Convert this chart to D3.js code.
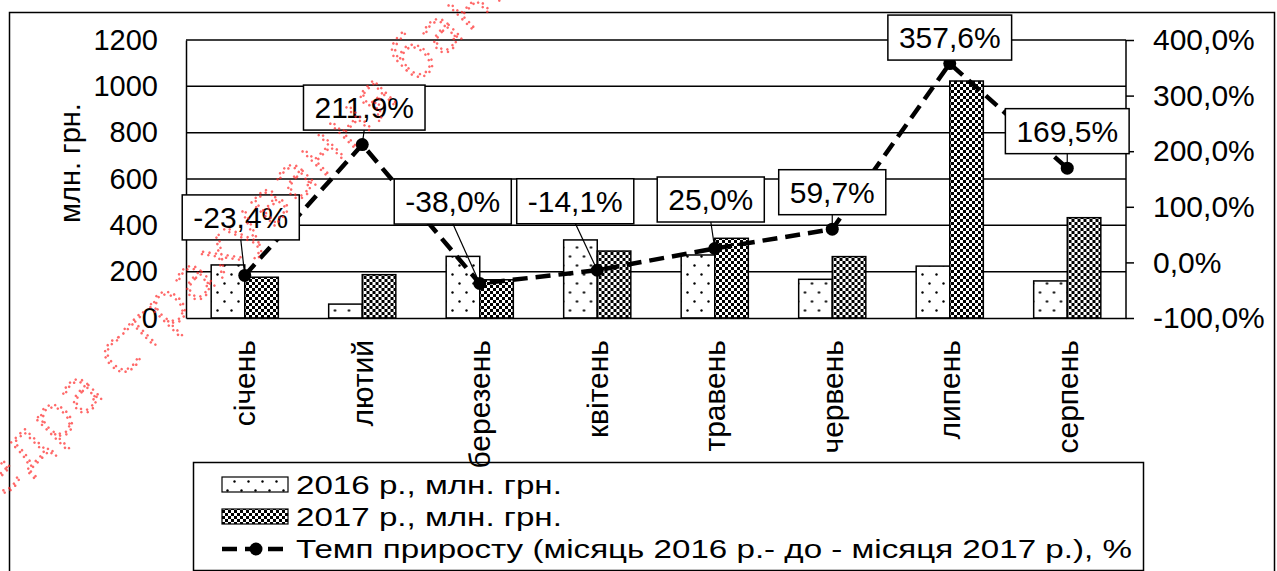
<!DOCTYPE html>
<html>
<head>
<meta charset="utf-8">
<script src="https://cdn.jsdelivr.net/npm/d3@7/dist/d3.min.js"></script>
<style>
  body { margin: 0; background: #fff; }
  svg { font-family: "Liberation Sans", Arial, sans-serif; }
</style>
</head>
<body>
<svg id="chart" width="1277" height="571"></svg>
<script>
// data
var months = ["січень", "лютий", "березень", "квітень", "травень", "червень", "липень", "серпень"];
var values2016 = [229, 60, 266, 337, 272, 167, 224, 160];
var values2017 = [176, 187, 165, 289, 344, 265, 1023, 433];
var growth = [-23.4, 211.9, -38.0, -14.1, 25.0, 59.7, 357.6, 169.5];
var leftTicks = [0, 200, 400, 600, 800, 1000, 1200];
var rightTicks = [-100, 0, 100, 200, 300, 400];
var seriesNames = ["2016 р., млн. грн.", "2017 р., млн. грн.",
                   "Темп приросту (місяць 2016 р.- до - місяця 2017 р.), %"];
var yTitle = "млн. грн.";
var watermark = "Кафедра страхування банківської справи";

// where each data label box sits relative to its point
var labelDx = [-4, 2, -27, -22, -4, 0, 0, 0];
var labelDy = [-58, -37, -82, -69, -49, -37, -26, -37];

var svg = d3.select("#chart");
var plot = {left: 186, right: 1126, top: 40, bottom: 318};

var fmtPct = function(d) { return d.toFixed(1).replace(".", ",") + "%"; };

// patterns
var defs = svg.append("defs");
var dots = defs.append("pattern").attr("id", "dots")
    .attr("patternUnits", "userSpaceOnUse").attr("width", 14).attr("height", 18);
dots.append("rect").attr("width", 14).attr("height", 18).attr("fill", "#fff");
dots.append("circle").attr("cx", 3.5).attr("cy", 4.5).attr("r", 1.2).attr("fill", "#000");
dots.append("circle").attr("cx", 10.5).attr("cy", 13.5).attr("r", 1.2).attr("fill", "#000");

var checks = defs.append("pattern").attr("id", "checks")
    .attr("patternUnits", "userSpaceOnUse").attr("width", 6).attr("height", 6);
checks.append("rect").attr("width", 6).attr("height", 6).attr("fill", "#fff");
checks.append("rect").attr("width", 3).attr("height", 3).attr("fill", "#000");
checks.append("rect").attr("x", 3).attr("y", 3).attr("width", 3).attr("height", 3).attr("fill", "#000");

// outer frame
svg.append("rect").attr("x", 9.5).attr("y", 12.5).attr("width", 1265).attr("height", 600)
   .attr("fill", "none").attr("stroke", "#000").attr("stroke-width", 1.5);

// scales
var x = d3.scaleBand().domain(months).range([plot.left, plot.right]);
var xs = d3.scaleBand().domain(["2016", "2017"]).range([0, x.bandwidth()])
    .paddingInner(0).paddingOuter(0.75);
var y = d3.scaleLinear().domain([0, 1200]).range([plot.bottom, plot.top]);
var y2 = d3.scaleLinear().domain([-100, 400]).range([plot.bottom, plot.top]);

// gridlines
svg.append("g").selectAll("line").data(leftTicks.slice(1)).enter().append("line")
   .attr("x1", plot.left).attr("x2", plot.right)
   .attr("y1", function(d) { return y(d); }).attr("y2", function(d) { return y(d); })
   .attr("stroke", "#000").attr("stroke-width", 1.5);

// left axis
var gl = svg.append("g").attr("transform", "translate(" + plot.left + ",0)")
   .call(d3.axisLeft(y).tickValues(leftTicks).tickSize(0).tickPadding(28).tickFormat(d3.format("d")));
gl.select(".domain").attr("stroke-width", 1.5);
gl.selectAll("text").attr("font-size", 29).attr("font-family", "Liberation Sans, Arial").attr("fill", "#000");

// right axis
var gr = svg.append("g").attr("transform", "translate(" + plot.right + ",0)")
   .call(d3.axisRight(y2).tickValues(rightTicks).tickSize(8).tickPadding(19).tickFormat(fmtPct));
gr.select(".domain").attr("stroke-width", 1.5).attr("d", "M0," + plot.top + "V" + plot.bottom);
gr.selectAll("line").attr("stroke-width", 1.5);
gr.selectAll("text").attr("font-size", 30).attr("font-family", "Liberation Sans, Arial").attr("fill", "#000");

// bars
var groups = svg.append("g").selectAll("g").data(months).enter().append("g")
   .attr("transform", function(d) { return "translate(" + x(d) + ",0)"; });
groups.append("rect")
   .attr("x", xs("2016")).attr("width", xs.bandwidth())
   .attr("y", function(d, i) { return y(values2016[i]); })
   .attr("height", function(d, i) { return plot.bottom - y(values2016[i]); })
   .attr("fill", "url(#dots)").attr("stroke", "#000").attr("stroke-width", 1.5);
groups.append("rect")
   .attr("x", xs("2017")).attr("width", xs.bandwidth())
   .attr("y", function(d, i) { return y(values2017[i]); })
   .attr("height", function(d, i) { return plot.bottom - y(values2017[i]); })
   .attr("fill", "url(#checks)").attr("stroke", "#000").attr("stroke-width", 1.5);

// bottom axis
var gb = svg.append("g").attr("transform", "translate(0," + plot.bottom + ")")
   .call(d3.axisBottom(x).tickSize(0).tickFormat(""));
gb.select(".domain").attr("stroke-width", 1.5);

// growth line
var cx = function(i) { return x(months[i]) + x.bandwidth() / 2; };
var line = d3.line().x(function(d, i) { return cx(i); }).y(function(d) { return y2(d); });
svg.append("path").datum(growth).attr("d", line)
   .attr("fill", "none").attr("stroke", "#000").attr("stroke-width", 4.5)
   .attr("stroke-dasharray", "15 8");

// leader lines
svg.append("g").selectAll("line").data(growth).enter().append("line")
   .attr("x1", function(d, i) { return cx(i) + labelDx[i]; })
   .attr("y1", function(d, i) { return y2(d) + labelDy[i] + 22; })
   .attr("x2", function(d, i) { return cx(i); })
   .attr("y2", function(d) { return y2(d); })
   .attr("stroke", "#000").attr("stroke-width", 1.2);

svg.append("g").selectAll("circle").data(growth).enter().append("circle")
   .attr("cx", function(d, i) { return cx(i); })
   .attr("cy", function(d) { return y2(d); })
   .attr("r", 6.5).attr("fill", "#000");

// data labels
var labels = svg.append("g").selectAll("g").data(growth).enter().append("g")
   .attr("transform", function(d, i) {
       return "translate(" + (cx(i) + labelDx[i]) + "," + (y2(d) + labelDy[i]) + ")";
   });
labels.append("rect").attr("fill", "#fff").attr("stroke", "#000").attr("stroke-width", 1.5);
labels.append("text").attr("text-anchor", "middle").attr("dy", "0.36em")
   .attr("font-size", 30).text(fmtPct);
labels.each(function() {
    var t = d3.select(this).select("text").node().getBBox();
    var w = t.width + 22, h = 45;
    d3.select(this).select("rect").attr("x", -w / 2).attr("y", -h / 2).attr("width", w).attr("height", h);
});

// y title
svg.append("text").attr("transform", "translate(70,163) rotate(-90)")
   .attr("text-anchor", "middle").attr("dy", "0.35em").attr("font-size", 29).text(yTitle);

// legend
var lg = svg.append("g");
lg.append("rect").attr("x", 193.5).attr("y", 462.5).attr("width", 950).attr("height", 108)
  .attr("fill", "#fff").attr("stroke", "#000").attr("stroke-width", 1.5);
var rowY = [485, 517, 549];
lg.append("rect").attr("x", 222).attr("y", rowY[0] - 8).attr("width", 66).attr("height", 15)
  .attr("fill", "url(#dots)").attr("stroke", "#000").attr("stroke-width", 1.2);
lg.append("rect").attr("x", 222).attr("y", rowY[1] - 8).attr("width", 66).attr("height", 15)
  .attr("fill", "url(#checks)").attr("stroke", "#000").attr("stroke-width", 1.2);
lg.append("line").attr("x1", 222).attr("x2", 290).attr("y1", rowY[2]).attr("y2", rowY[2])
  .attr("stroke", "#000").attr("stroke-width", 4.5).attr("stroke-dasharray", "15 8");
lg.append("circle").attr("cx", 256).attr("cy", rowY[2]).attr("r", 6.5).attr("fill", "#000");
lg.selectAll("text.leg").data(seriesNames).enter().append("text").attr("class", "leg")
  .attr("transform", function(d, i) { return "translate(296," + rowY[i] + ") scale(1.275,1)"; })
  .attr("dy", "0.36em").attr("font-size", 26).text(function(d) { return d; });

// category labels (drawn over legend like the original)
svg.append("g").selectAll("text").data(months).enter().append("text")
   .attr("transform", function(d) {
       return "translate(" + (x(d) + x.bandwidth() / 2) + ",340) rotate(-90)";
   })
   .attr("text-anchor", "end").attr("dy", "0.35em").attr("font-size", 30)
   .text(function(d) { return d; });

// watermark
svg.append("text").attr("transform", "translate(-92,592) rotate(-45)")
   .attr("font-family", "DejaVu Sans").attr("font-weight", 200)
   .attr("font-size", 60).attr("fill", "none").attr("stroke", "#ff2a2a")
   .attr("stroke-width", 2.6).attr("stroke-dasharray", "0 6.5").attr("stroke-linecap", "round")
   .attr("opacity", 0.7).text(watermark);
</script>
</body>
</html>
